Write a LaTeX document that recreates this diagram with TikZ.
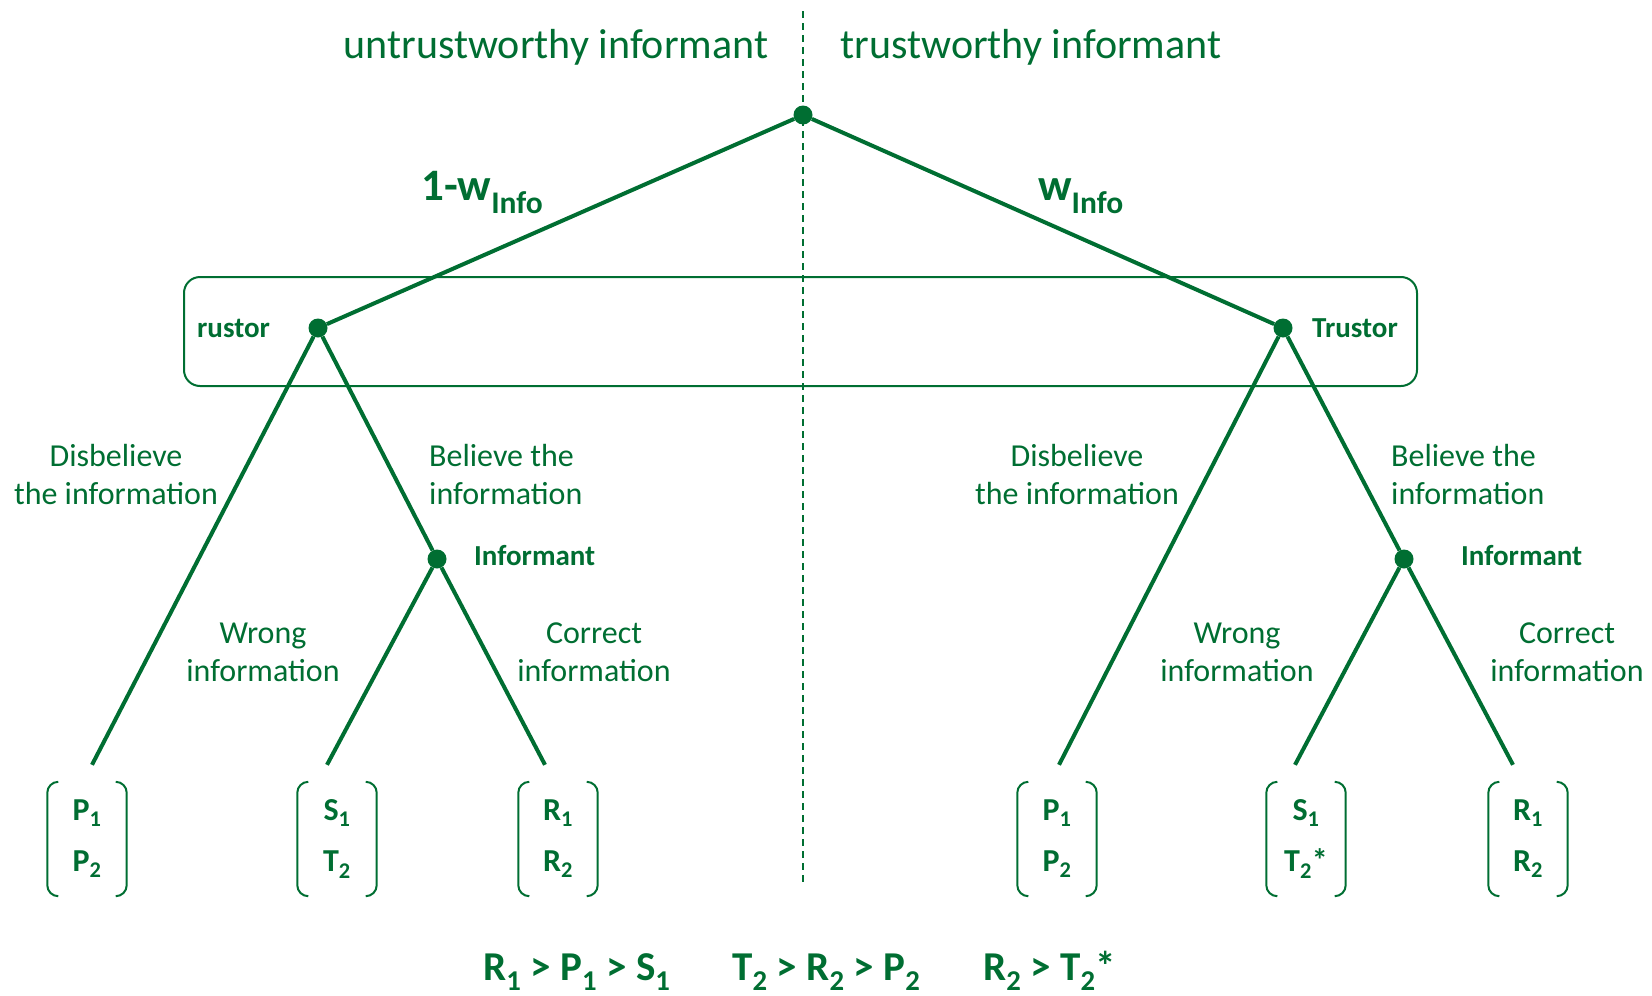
\documentclass[tikz,border=0pt]{standalone}
\usepackage{fontspec}
\setmainfont{Carlito}
\usetikzlibrary{positioning}
\definecolor{forest}{RGB}{0,110,50}

\begin{document}
\begin{tikzpicture}[x=1pt,y=-1pt,
    dot/.style={circle,fill=forest,inner sep=0pt,minimum size=19pt},
    branch/.style={forest,line width=4pt},
    lab/.style={text=forest,font=\fontsize{32}{38}\selectfont,align=center,inner sep=0pt},
    role/.style={text=forest,font=\fontsize{29}{34}\selectfont\bfseries,inner sep=0pt,anchor=west},
    prob/.style={text=forest,font=\fontsize{45}{50}\selectfont\bfseries,inner sep=0pt,anchor=base west},
    payoff/.style={text=forest,font=\fontsize{32}{51}\selectfont\bfseries,align=center,
      minimum width=79pt,minimum height=114pt,inner sep=0pt},
    paren/.style={forest,line width=2pt,rounded corners=11pt}]
  \useasboundingbox (0,0) rectangle (1652,996);

  % left / right halves
  \coordinate (divtop) at (803,11);
  \coordinate (divbot) at (803,885);
  \draw[forest,line width=1.5pt,dash pattern=on 7pt off 5pt] (divtop) -- (divbot);
  \node[text=forest,font=\fontsize{42}{50}\selectfont,anchor=base,inner sep=0pt] (untrust) at (556,58) {untrustworthy informant};
  \node[text=forest,font=\fontsize{42}{50}\selectfont,anchor=base,inner sep=0pt] (trust) at (1031,58) {trustworthy informant};

  % information set of the trustor
  \node[draw=forest,line width=2pt,rounded corners=16pt,minimum width=1233pt,minimum height=109pt] (infoset) at (800.5,331.5) {};

  % decision nodes
  \node[dot] (root) at (803,115) {};
  \node[dot] (lT) at (318,328) {};
  \node[dot] (rT) at (1283,328) {};
  \node[dot] (lI) at (437,559) {};
  \node[dot] (rI) at (1404,559) {};
  \node[role] (lTlab) at (197,328) {rustor};
  \node[role] (rTlab) at (1312,328) {Trustor};
  \node[role] (lIlab) at (474,556) {Informant};
  \node[role] (rIlab) at (1461,556) {Informant};

  % payoffs
  \foreach \n/\x/\t in {lP/87/P\textsubscript{1}\\P\textsubscript{2},
                        lS/337/S\textsubscript{1}\\T\textsubscript{2},
                        lR/558/R\textsubscript{1}\\R\textsubscript{2},
                        rP/1057/P\textsubscript{1}\\P\textsubscript{2},
                        rS/1306/S\textsubscript{1}\\T\textsubscript{2}*,
                        rR/1528/R\textsubscript{1}\\R\textsubscript{2}}{
    \node[payoff] (\n) at (\x,839) {\t};
    \draw[paren] ([xshift=11pt]\n.north west) -- (\n.north west) -- (\n.south west) -- ([xshift=11pt]\n.south west);
    \draw[paren] ([xshift=-11pt]\n.north east) -- (\n.north east) -- (\n.south east) -- ([xshift=-11pt]\n.south east);
  }

  % branches
  \draw[branch] (root) -- (lT);
  \draw[branch] (root) -- (rT);
  \draw[branch] (lT) -- ([xshift=5pt,yshift=17pt]lP.north);
  \draw[branch] (lT) -- (lI);
  \draw[branch] (lI) -- ([xshift=-10pt,yshift=17pt]lS.north);
  \draw[branch] (lI) -- ([xshift=-13pt,yshift=17pt]lR.north);
  \draw[branch] (rT) -- ([xshift=2pt,yshift=17pt]rP.north);
  \draw[branch] (rT) -- (rI);
  \draw[branch] (rI) -- ([xshift=-11pt,yshift=17pt]rS.north);
  \draw[branch] (rI) -- ([xshift=-15pt,yshift=17pt]rR.north);

  \node[prob] (lw) at (421,200) {1-w\textsubscript{Info}};
  \node[prob] (rw) at (1038,200) {w\textsubscript{Info}};

  % branch labels
  \node[lab] (lDis) at (116,475) {Disbelieve\\the information};
  \node[lab,align=left,anchor=west] (lBel) at (429,475) {Believe the\\information};
  \node[lab] (rDis) at (1077,475) {Disbelieve\\the information};
  \node[lab,align=left,anchor=west] (rBel) at (1391,475) {Believe the\\information};
  \node[lab] (lWrong) at (263,652) {Wrong\\information};
  \node[lab] (lCorrect) at (594,652) {Correct\\information};
  \node[lab] (rWrong) at (1237,652) {Wrong\\information};
  \node[lab] (rCorrect) at (1567,652) {Correct\\information};

  % payoff orderings
  \node[prob,font=\fontsize{41}{48}\selectfont\bfseries] (rank1) at (483,980) {R\textsubscript{1} > P\textsubscript{1} > S\textsubscript{1}};
  \node[prob,font=\fontsize{41}{48}\selectfont\bfseries] (rank2) at (732,980) {T\textsubscript{2} > R\textsubscript{2} > P\textsubscript{2}};
  \node[prob,font=\fontsize{41}{48}\selectfont\bfseries] (rank3) at (983,980) {R\textsubscript{2} > T\textsubscript{2}*};
\end{tikzpicture}
\end{document}
